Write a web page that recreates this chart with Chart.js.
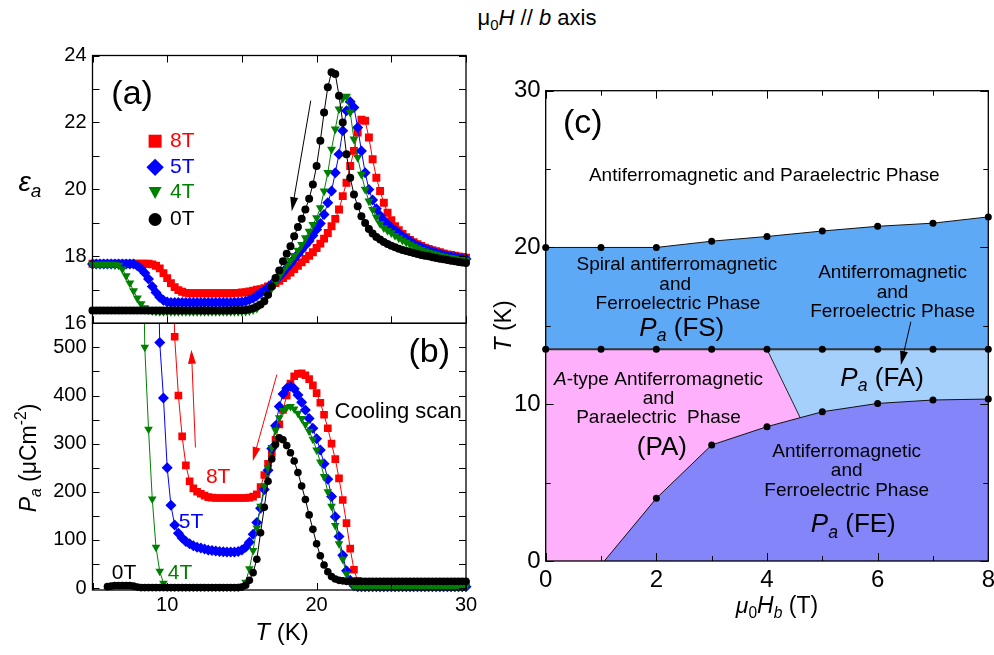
<!DOCTYPE html>
<html>
<head>
<meta charset="utf-8">
<script src="https://cdn.jsdelivr.net/npm/chart.js@4.4.1/dist/chart.umd.min.js"></script>
<style>
  body { margin: 0; background: #fff; overflow: hidden; }
  #wrap { position: relative; width: 994px; height: 655px; font-family: "Liberation Sans", Arial, sans-serif; }
  #wrap canvas { position: absolute; left: 0; top: 0; }
  #title { position: absolute; left: 417px; width: 240px; top: 4px; line-height: 28px; text-align: center; font-size: 22px; }
  #title sub { font-size: 15px; }
</style>
</head>
<body>
<div id="wrap">
  <div id="title">μ<sub>0</sub><i>H</i> // <i>b</i> axis</div>
  <canvas id="chartA" width="994" height="655"></canvas>
  <canvas id="chartB" width="994" height="655"></canvas>
  <canvas id="chartC" width="994" height="655"></canvas>
</div>
<script>
'use strict';

// DATA: panels (a) and (b), temperature in K
let tempK = [5,5.25,5.5,5.75,6,6.25,6.5,6.75,7,7.25,7.5,7.75,8,8.25,8.5,8.75,9,9.25,9.5,9.75,
  10,10.25,10.5,10.75,11,11.25,11.5,11.75,12,12.25,12.5,12.75,13,13.25,13.5,13.75,14,14.25,14.5,14.75,
  15,15.25,15.5,15.75,16,16.25,16.5,16.75,17,17.25,17.5,17.75,18,18.25,18.5,18.75,19,19.25,19.5,19.75,
  20,20.25,20.5,20.75,21,21.25,21.5,21.75,22,22.25,22.5,22.75,23,23.25,23.5,23.75,24,24.25,24.5,24.75,
  25,25.25,25.5,25.75,26,26.25,26.5,26.75,27,27.25,27.5,27.75,28,28.25,28.5,28.75,29,29.25,29.5,29.75,30];

// dielectric constant eps_a
let eps0T = [16.38,16.38,16.38,16.38,16.38,16.38,16.38,16.38,16.38,16.38,16.38,16.38,16.38,16.38,16.38,16.38,16.38,16.38,16.38,16.38,
  16.38,16.38,16.38,16.38,16.38,16.38,16.38,16.38,16.38,16.38,16.38,16.38,16.38,16.38,16.38,16.38,16.38,16.38,16.39,16.39,
  16.39,16.4,16.42,16.45,16.5,16.56,16.66,16.85,17.1,17.35,17.58,17.85,18.08,18.3,18.6,18.88,19.12,19.4,19.72,20.15,
  20.7,21.45,22.3,23.05,23.5,23.45,22.8,22.0,21.05,20.35,19.85,19.5,19.2,19.0,18.82,18.68,18.58,18.5,18.43,18.37,
  18.32,18.27,18.23,18.19,18.16,18.13,18.1,18.07,18.04,18.02,18.0,17.97,17.95,17.93,17.91,17.89,17.87,17.85,17.83,17.82,17.8];
let eps4T = [17.75,17.76,17.76,17.76,17.76,17.76,17.75,17.73,17.62,17.42,17.2,16.97,16.75,16.58,16.46,16.4,16.37,16.36,16.35,16.35,
  16.35,16.35,16.35,16.35,16.35,16.35,16.35,16.35,16.35,16.35,16.35,16.35,16.35,16.35,16.35,16.35,16.35,16.35,16.35,16.35,
  16.35,16.36,16.37,16.4,16.45,16.57,16.7,16.87,17.05,17.22,17.4,17.58,17.73,17.87,18.02,18.18,18.35,18.55,18.75,18.95,
  19.15,19.45,19.95,20.5,21.2,21.8,22.4,22.72,22.78,22.3,21.5,20.95,20.45,20.0,19.65,19.4,19.17,18.98,18.85,18.77,
  18.7,18.62,18.55,18.48,18.42,18.36,18.3,18.25,18.2,18.16,18.12,18.09,18.06,18.03,18.0,17.98,17.96,17.94,17.92,17.9,17.88];
let eps5T = [17.77,17.77,17.77,17.77,17.77,17.77,17.77,17.77,17.77,17.77,17.77,17.77,17.72,17.63,17.5,17.32,17.1,16.92,16.78,16.69,
  16.64,16.62,16.62,16.62,16.62,16.62,16.62,16.62,16.62,16.62,16.62,16.62,16.62,16.62,16.62,16.62,16.62,16.62,16.63,16.63,
  16.64,16.66,16.7,16.75,16.82,16.9,16.98,17.07,17.17,17.28,17.4,17.52,17.65,17.78,17.92,18.06,18.2,18.33,18.46,18.62,
  18.8,18.98,19.25,19.6,19.95,20.5,21.05,21.75,22.35,22.62,22.45,21.85,21.15,20.5,20.0,19.68,19.42,19.22,19.08,18.96,
  18.86,18.77,18.69,18.6,18.52,18.45,18.38,18.32,18.27,18.22,18.18,18.14,18.1,18.07,18.04,18.01,17.99,17.97,17.95,17.93,17.92];
let eps8T = [17.78,17.78,17.78,17.78,17.78,17.78,17.78,17.78,17.78,17.78,17.78,17.78,17.78,17.78,17.78,17.78,17.76,17.72,17.64,17.5,
  17.35,17.2,17.08,16.99,16.94,16.91,16.9,16.9,16.9,16.9,16.9,16.9,16.9,16.9,16.9,16.9,16.9,16.9,16.91,16.91,
  16.92,16.93,16.95,16.97,17.0,17.02,17.05,17.1,17.15,17.2,17.27,17.35,17.43,17.52,17.62,17.72,17.82,17.92,18.02,18.12,
  18.25,18.38,18.53,18.7,18.9,19.12,19.4,19.8,20.2,20.7,21.15,21.7,22.08,22.05,21.55,20.9,20.35,19.95,19.6,19.3,
  19.08,18.9,18.78,18.67,18.57,18.49,18.42,18.36,18.31,18.26,18.22,18.18,18.15,18.12,18.09,18.06,18.04,18.02,18.0,17.98,17.96];

// polarization P_a (uC/m^2)
let pol0T = [null,null,null,null,3,4,5,5,5,5,5,4,2,1,1,1,1,1,1,1,
  1,1,1,1,1,1,1,1,1,1,1,1,1,1,1,1,1,1,1,1,
  2,6,16,32,60,115,168,222,268,298,312,308,296,281,264,240,212,184,152,122,
  92,67,48,34,24,19,16,15,14,14,14,14,14,14,14,14,14,14,14,14,
  14,14,14,14,14,14,14,14,14,14,14,14,14,14,14,14,14,14,14,14,14];
let pol4T = [null,null,null,null,null,null,null,null,null,null,null,null,null,1000,500,330,185,85,35,10,
  3,2,2,2,2,2,2,2,2,2,2,2,2,2,2,2,2,2,2,2,
  4,12,40,78,125,170,212,250,292,328,354,369,375,377,372,363,352,340,326,309,
  287,262,232,200,170,130,92,60,29,12,4,3,3,3,3,3,3,3,3,3,
  3,3,3,3,3,3,3,3,3,3,3,3,3,3,3,3,3,3,3,3,3];
let pol5T = [null,null,null,null,null,null,null,null,null,null,null,null,null,null,null,null,null,900,510,395,
  250,172,131,114,104,97,92,88,85,83,81,79,78,77,76,75.5,75,75,75,76,
  79,85,95,112,136,166,205,245,290,337,377,403,415,419,414,401,386,370,352,332,
  310,287,258,226,190,148,107,68,36,16,5,3,3,3,3,3,3,3,3,3,
  3,3,3,3,3,3,3,3,3,3,3,3,3,3,3,3,3,3,3,3,3];
let pol8T = [null,null,null,null,null,null,null,null,null,null,null,null,null,null,null,null,null,null,null,null,
  null,900,522,400,315,255,222,207,200,196,192,189,188,187,187,187,187,187,187,187,
  187,187,188,190,195,210,235,258,280,308,340,370,400,425,440,445,446,442,434,421,
  405,385,360,332,300,268,228,183,135,82,38,15,9,8,8,8,8,8,8,8,
  8,8,8,8,8,8,8,8,8,8,8,8,8,8,8,8,8,8,8,8,8];

// DATA: panel (c) phase diagram
let fieldHb = [0,1,2,3,4,5,6,7,8];
let tempUpper = [20.0,20.0,20.0,20.4,20.7,21.05,21.35,21.55,21.95];
let tempMiddle = [13.5,13.5,13.5,13.5,13.5,13.5,13.5,13.5,13.5];
let fieldFE = [1.06,2,3,4,5,6,7,8];
let tempFE = [0,4.0,7.4,8.57,9.52,10.05,10.27,10.33];
let fieldPAFA = [4,4.6];
let tempPAFA = [13.5,9.14];

// tick labels and tick marks
let tickT = [10,20,30];
let markT = [5,10,15,20,25,30];
let tickEps = [16,18,20,22,24];
let markEps = [16,17,18,19,20,21,22,23,24];
let tickPol = [0,100,200,300,400,500];
let markPol = [0,50,100,150,200,250,300,350,400,450,500,550];
let tickHb = [0,2,4,6,8];
let markHbMinor = [1,3,5,7];
let tickTc = [0,10,20,30];
let markTcMinor = [5,15,25];

const FONT = '"Liberation Sans", Arial, sans-serif';
const RED = '#ff0000';
const BLUE = '#0000ff';
const GREEN = '#008000';
const BLACK = '#000000';

function toPoints(xs, ys) {
  return xs.map((x, i) => ({x: x, y: ys[i]}));
}

// tiny markup: "i:" italic, "s:" subscript, "S:" superscript, parts split by |
function parseRich(str) {
  return str.split('|').map(seg => {
    let m = seg.match(/^(i|s|S|is|iS):(.*)$/);
    if (!m) return {t: seg};
    return {t: m[2], it: m[1].indexOf('i') >= 0, sub: m[1].indexOf('s') >= 0, sup: m[1].indexOf('S') >= 0};
  });
}

function fontFor(p, size) {
  let s = (p.sub || p.sup) ? size * 0.68 : size;
  return (p.it ? 'italic ' : '') + s.toFixed(1) + 'px ' + FONT;
}

function drawRich(ctx, str, x, y, size, color, align) {
  let parts = parseRich(str);
  let widths = parts.map(p => { ctx.font = fontFor(p, size); return ctx.measureText(p.t).width; });
  let total = widths.reduce((a, b) => a + b, 0);
  let cx = align === 'left' ? x : (align === 'right' ? x - total : x - total / 2);
  ctx.textBaseline = 'middle';
  ctx.textAlign = 'left';
  ctx.fillStyle = color;
  parts.forEach((p, i) => {
    ctx.font = fontFor(p, size);
    let dy = p.sub ? size * 0.3 : (p.sup ? -size * 0.35 : 0);
    ctx.fillText(p.t, cx, y + dy);
    cx += widths[i];
  });
}

function drawMarker(ctx, shape, x, y, s, color) {
  ctx.fillStyle = color;
  ctx.beginPath();
  if (shape === 'rect') {
    ctx.rect(x - s / 2, y - s / 2, s, s);
  } else if (shape === 'diamond') {
    ctx.moveTo(x, y - s * 0.62); ctx.lineTo(x + s * 0.62, y); ctx.lineTo(x, y + s * 0.62); ctx.lineTo(x - s * 0.62, y);
  } else if (shape === 'triDown') {
    ctx.moveTo(x - s / 2, y - s * 0.42); ctx.lineTo(x + s / 2, y - s * 0.42); ctx.lineTo(x, y + s * 0.5);
  } else {
    ctx.arc(x, y, s / 2, 0, Math.PI * 2);
  }
  ctx.closePath();
  ctx.fill();
}

function drawArrow(ctx, x1, y1, x2, y2, color) {
  let ang = Math.atan2(y2 - y1, x2 - x1);
  let hl = 14, hw = 4;
  ctx.strokeStyle = color;
  ctx.fillStyle = color;
  ctx.lineWidth = 1;
  ctx.beginPath();
  ctx.moveTo(x1, y1);
  ctx.lineTo(x2 - hl * 0.8 * Math.cos(ang), y2 - hl * 0.8 * Math.sin(ang));
  ctx.stroke();
  ctx.beginPath();
  ctx.moveTo(x2, y2);
  ctx.lineTo(x2 - hl * Math.cos(ang) + hw * Math.sin(ang), y2 - hl * Math.sin(ang) - hw * Math.cos(ang));
  ctx.lineTo(x2 - hl * Math.cos(ang) - hw * Math.sin(ang), y2 - hl * Math.sin(ang) + hw * Math.cos(ang));
  ctx.closePath();
  ctx.fill();
}

// frame, inward ticks, texts, arrows and legend
const decorPlugin = {
  id: 'decor',
  afterDraw(chart, args, opts) {
    let ctx = chart.ctx;
    let area = chart.chartArea;
    let xs = chart.scales.x;
    let ys = chart.scales.y;
    ctx.save();
    ctx.strokeStyle = '#000';
    ctx.lineWidth = 1;
    let seg = (a, b, c, d) => { ctx.beginPath(); ctx.moveTo(a, b); ctx.lineTo(c, d); ctx.stroke(); };
    let xTicks = (vals, len) => (vals || []).forEach(v => {
      let px = Math.round(xs.getPixelForValue(v)) + 0.5;
      if (opts.bottomTicks !== false) seg(px, area.bottom, px, area.bottom - len);
      if (opts.topTicks !== false) seg(px, area.top, px, area.top + len);
    });
    let yTicks = (vals, len) => (vals || []).forEach(v => {
      let py = Math.round(ys.getPixelForValue(v)) + 0.5;
      seg(area.left, py, area.left + len, py);
      seg(area.right, py, area.right - len, py);
    });
    xTicks(opts.xMajor, opts.majorLen);
    xTicks(opts.xMinor, opts.minorLen);
    yTicks(opts.yMajor, opts.majorLen);
    yTicks(opts.yMinor, opts.minorLen);
    ctx.lineWidth = 1.3;
    ctx.strokeRect(area.left, area.top, area.right - area.left, area.bottom - area.top);

    (opts.arrows || []).forEach(a => {
      drawArrow(ctx, xs.getPixelForValue(a.from[0]), ys.getPixelForValue(a.from[1]),
        xs.getPixelForValue(a.to[0]), ys.getPixelForValue(a.to[1]), a.color);
    });
    (opts.legend || []).forEach(l => {
      let px = xs.getPixelForValue(l.x);
      let py = ys.getPixelForValue(l.y);
      drawMarker(ctx, l.shape, px, py, l.size, l.color);
      drawRich(ctx, l.text, xs.getPixelForValue(l.textX), py, l.font, l.color, 'left');
    });
    (opts.texts || []).forEach(t => {
      let px = t.page ? t.x : xs.getPixelForValue(t.x);
      let py = t.page ? t.y : ys.getPixelForValue(t.y);
      ctx.save();
      ctx.translate(px, py);
      if (t.rot) ctx.rotate(t.rot * Math.PI / 180);
      drawRich(ctx, t.text, 0, 0, t.size, t.color || '#000', t.align || 'center');
      ctx.restore();
    });
    ctx.restore();
  }
};

function seriesSet(ys, color, style, radius, rot, order) {
  return {
    data: toPoints(tempK, ys),
    borderColor: color,
    backgroundColor: color,
    borderWidth: 1,
    pointStyle: style,
    pointRadius: radius,
    pointRotation: rot,
    pointBorderWidth: 0,
    pointBackgroundColor: color,
    order: order
  };
}

function fixedTicks(vals) {
  return function(scale) { scale.ticks = vals.map(v => ({value: v})); };
}

// keep the chart area where it is, whatever the edge labels need
function fitX(h) {
  return function(s) { s.height = h; s.paddingLeft = 0; s.paddingRight = 0; };
}
function fitY(w) {
  return function(s) { s.width = w; s.paddingTop = 0; s.paddingBottom = 0; };
}

let tickFontAB = {family: FONT, size: 20};

// panel (a)
let setsA = [
  seriesSet(eps0T, BLACK, 'circle', 4, 0, 0),
  seriesSet(eps4T, GREEN, 'triangle', 5.2, 180, 1),
  seriesSet(eps5T, BLUE, 'rectRot', 5.5, 0, 2),
  seriesSet(eps8T, RED, 'rect', 5.6, 0, 3)
];
setsA.forEach(s => { s.clip = 6; });

new Chart(document.getElementById('chartA'), {
  type: 'line',
  data: { datasets: setsA },
  options: {
    responsive: false,
    animation: false,
    events: [],
    layout: { padding: { left: 42.5, right: 528, top: 55.5, bottom: 331.7 } },
    scales: {
      x: { type: 'linear', min: 5, max: 30, display: false },
      y: {
        type: 'linear', min: 16, max: 24,
        afterFit: fitY(50),
        afterBuildTicks: fixedTicks(tickEps),
        grid: { display: false, drawTicks: false },
        border: { display: false },
        ticks: { font: tickFontAB, color: '#000', padding: 6 }
      }
    },
    plugins: {
      legend: { display: false },
      tooltip: { enabled: false },
      decor: {
        xMajor: markT, yMajor: markEps, majorLen: 7, minorLen: 5,
        texts: [
          { x: 7.65, y: 22.83, text: '(a)', size: 34 },
          { page: true, x: 30, y: 183, text: 'i:ε|is:a', size: 28 }
        ],
        legend: [
          { x: 9.19, textX: 10.19, y: 21.44, shape: 'rect', size: 13, color: RED, text: '8T', font: 21 },
          { x: 9.19, textX: 10.19, y: 20.66, shape: 'diamond', size: 14, color: BLUE, text: '5T', font: 21 },
          { x: 9.19, textX: 10.19, y: 19.91, shape: 'triDown', size: 13, color: GREEN, text: '4T', font: 21 },
          { x: 9.19, textX: 10.19, y: 19.10, shape: 'circle', size: 13, color: BLACK, text: '0T', font: 21 }
        ],
        arrows: [ { from: [19.61, 22.65], to: [18.34, 19.35], color: BLACK } ]
      }
    }
  },
  plugins: [decorPlugin]
});

// panel (b)
let setsB = [
  seriesSet(pol0T, BLACK, 'circle', 3.8, 0, 0),
  seriesSet(pol4T, GREEN, 'triangle', 5, 180, 1),
  seriesSet(pol5T, BLUE, 'rectRot', 5.5, 0, 2),
  seriesSet(pol8T, RED, 'rect', 5.4, 0, 3)
];
setsB.forEach(s => { s.clip = { left: 6, right: 6, top: 0, bottom: 6 }; });

new Chart(document.getElementById('chartB'), {
  type: 'line',
  data: { datasets: setsB },
  options: {
    responsive: false,
    animation: false,
    events: [],
    layout: { padding: { left: 42.5, right: 528, top: 323.3, bottom: 35 } },
    scales: {
      x: {
        type: 'linear', min: 5, max: 30,
        afterFit: fitX(30),
        afterBuildTicks: fixedTicks(tickT),
        grid: { display: false, drawTicks: false },
        border: { display: false },
        ticks: { font: tickFontAB, color: '#000', padding: 3, maxRotation: 0 }
      },
      y: {
        type: 'linear', min: -4, max: 550,
        afterFit: fitY(50),
        afterBuildTicks: fixedTicks(tickPol),
        grid: { display: false, drawTicks: false },
        border: { display: false },
        ticks: { font: tickFontAB, color: '#000', padding: 6 }
      }
    },
    plugins: {
      legend: { display: false },
      tooltip: { enabled: false },
      decor: {
        xMajor: markT, yMajor: markPol, majorLen: 7, minorLen: 5, topTicks: false,
        texts: [
          { x: 27.54, y: 489, text: '(b)', size: 34 },
          { x: 25.46, y: 365, text: 'Cooling scan', size: 22 },
          { x: 13.41, y: 230, text: '8T', size: 21, color: RED },
          { x: 11.6, y: 137, text: '5T', size: 21, color: BLUE },
          { x: 7.11, y: 30, text: '0T', size: 21, color: BLACK },
          { x: 10.86, y: 30, text: '4T', size: 21, color: GREEN },
          { page: true, x: 30, y: 458, rot: -90, text: 'i:P|is:a| (μCm|S:-2|)', size: 23 },
          { page: true, x: 282, y: 633, text: 'i:T| (K)', size: 24 }
        ],
        arrows: [
          { from: [11.89, 292], to: [11.62, 495], color: RED },
          { from: [17.34, 443.5], to: [15.73, 264], color: RED }
        ]
      }
    }
  },
  plugins: [decorPlugin]
});

// panel (c)
let fillBlue = '#5ea9f6';
let fillLight = '#a4d0fb';
let fillPink = '#ffb0fa';
let fillPurple = '#8585fa';
let clear = 'rgba(0,0,0,0)';

let pinkPoints = toPoints(fieldHb.slice(0, 5), tempMiddle.slice(0, 5)).concat(toPoints(fieldPAFA.slice(1), tempPAFA.slice(1)));

let setsC = [
  { data: toPoints(fieldHb, tempUpper), fill: 'origin', backgroundColor: fillBlue, borderColor: clear, pointRadius: 0, order: 8 },
  { data: toPoints(fieldHb, tempMiddle), fill: 'origin', backgroundColor: fillLight, borderColor: clear, pointRadius: 0, order: 7 },
  { data: pinkPoints, fill: 'origin', backgroundColor: fillPink, borderColor: clear, pointRadius: 0, order: 6 },
  { data: toPoints(fieldFE, tempFE), fill: 'origin', backgroundColor: fillPurple, borderColor: clear, pointRadius: 0, order: 5 },
  { data: toPoints(fieldPAFA, tempPAFA), borderColor: '#222', borderWidth: 1, pointRadius: 0, order: 3 },
  { data: toPoints(fieldHb, tempUpper), borderColor: '#111', borderWidth: 1, pointRadius: 3.5,
    pointBackgroundColor: BLACK, pointBorderWidth: 0, order: 2 },
  { data: toPoints(fieldHb, tempMiddle), borderColor: '#333', borderWidth: 2, pointRadius: 3.5,
    pointBackgroundColor: BLACK, pointBorderWidth: 0, order: 1 },
  { data: toPoints(fieldFE, tempFE), borderColor: '#111', borderWidth: 1,
    pointRadius: fieldFE.map((h, i) => (i === 0 ? 0 : 3.5)),
    pointBackgroundColor: BLACK, pointBorderWidth: 0, order: 0 }
];
setsC.forEach(s => { s.clip = 6; });

let tickFontC = {family: FONT, size: 24};

new Chart(document.getElementById('chartC'), {
  type: 'line',
  data: { datasets: setsC },
  options: {
    responsive: false,
    animation: false,
    events: [],
    layout: { padding: { left: 495.7, right: 5.7, top: 90.7, bottom: 54 } },
    scales: {
      x: {
        type: 'linear', min: 0, max: 8,
        afterFit: fitX(40),
        afterBuildTicks: fixedTicks(tickHb),
        grid: { display: false, drawTicks: false },
        border: { display: false },
        ticks: { font: tickFontC, color: '#000', padding: 5, maxRotation: 0 }
      },
      y: {
        type: 'linear', min: 0, max: 30,
        afterFit: fitY(50),
        afterBuildTicks: fixedTicks(tickTc),
        grid: { display: false, drawTicks: false },
        border: { display: false },
        ticks: { font: tickFontC, color: '#000', padding: 5 }
      }
    },
    plugins: {
      legend: { display: false },
      tooltip: { enabled: false },
      decor: {
        xMajor: tickHb, xMinor: markHbMinor, yMajor: tickTc, yMinor: markTcMinor, majorLen: 8, minorLen: 5,
        texts: [
          { x: 0.67, y: 27.9, text: '(c)', size: 34 },
          { x: 3.95, y: 24.55, text: 'Antiferromagnetic and Paraelectric Phase', size: 19 },
          { x: 2.37, y: 18.92, text: 'Spiral antiferromagnetic', size: 19 },
          { x: 2.34, y: 17.6, text: 'and', size: 19 },
          { x: 2.39, y: 16.43, text: 'Ferroelectric Phase', size: 19 },
          { x: 2.46, y: 14.84, text: 'i:P|is:a| (FS)', size: 26 },
          { x: 6.27, y: 18.39, text: 'Antiferromagnetic', size: 19 },
          { x: 6.27, y: 17.14, text: 'and', size: 19 },
          { x: 6.27, y: 15.9, text: 'Ferroelectric Phase', size: 19 },
          { x: 6.08, y: 11.65, text: 'i:P|is:a| (FA)', size: 26 },
          { x: 2.04, y: 11.59, text: 'i:A|-type Antiferromagnetic', size: 19 },
          { x: 2.04, y: 10.38, text: 'and', size: 19 },
          { x: 2.04, y: 9.16, text: 'Paraelectric  Phase', size: 19 },
          { x: 2.1, y: 7.19, text: '(PA)', size: 26 },
          { x: 5.44, y: 6.97, text: 'Antiferromagnetic', size: 19 },
          { x: 5.44, y: 5.76, text: 'and', size: 19 },
          { x: 5.44, y: 4.48, text: 'Ferroelectric Phase', size: 19 },
          { x: 5.56, y: 2.3, text: 'i:P|is:a| (FE)', size: 26 },
          { page: true, x: 505, y: 326, rot: -90, text: 'i:T| (K)', size: 23 },
          { page: true, x: 777, y: 607, text: 'i:μ|s:0|i:H|is:b| (T)', size: 23 }
        ],
        arrows: [ { from: [6.6, 15.26], to: [6.42, 12.5], color: BLACK } ]
      }
    }
  },
  plugins: [decorPlugin]
});
</script>
</body>
</html>
